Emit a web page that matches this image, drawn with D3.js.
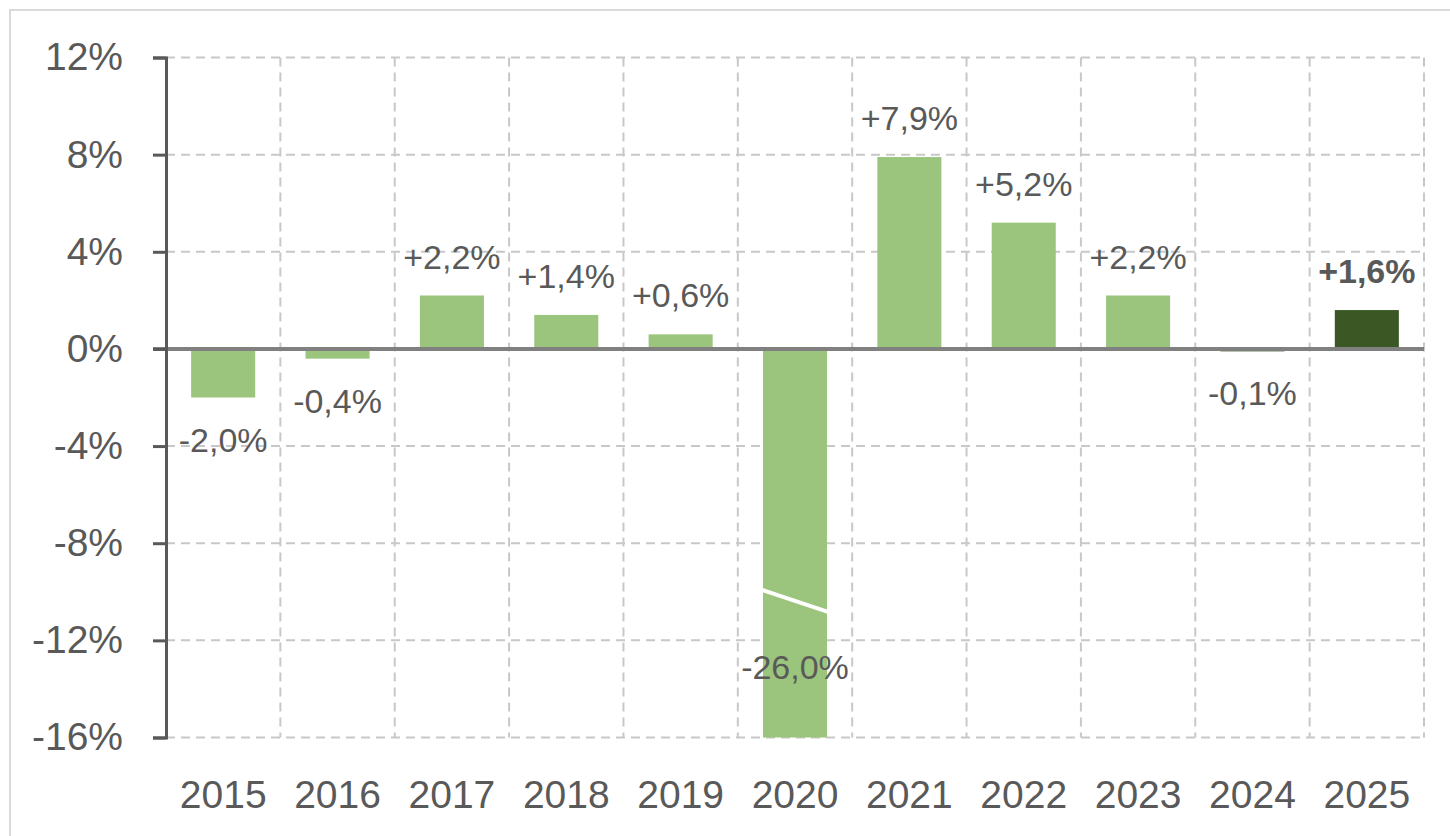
<!DOCTYPE html>
<html><head><meta charset="utf-8">
<script src="https://cdn.jsdelivr.net/npm/d3@7"></script>
<style>
html,body{margin:0;padding:0;background:#fff;}
svg{display:block;font-family:"Liberation Sans",Arial,sans-serif;}
</style></head>
<body>
<svg id="chart" width="1450" height="836"></svg>
<script>
const years = ["2015","2016","2017","2018","2019","2020","2021","2022","2023","2024","2025"];
const values = [-2.0,-0.4,2.2,1.4,0.6,-26.0,7.9,5.2,2.2,-0.1,1.6];
const labels = ["-2,0%","-0,4%","+2,2%","+1,4%","+0,6%","-26,0%","+7,9%","+5,2%","+2,2%","-0,1%","+1,6%"];
const highlight = [false,false,false,false,false,false,false,false,false,true,true];
const yTicks = [12,8,4,0,-4,-8,-12,-16];
const yTickLabels = ["12%","8%","4%","0%","-4%","-8%","-12%","-16%"];
const breakYear = "2020";
const breakValues = [-9.92,-10.83];

const svg = d3.select("#chart");
const m = {left:166, right:1424, top:57.5, bottom:737.5};
const x = d3.scaleBand().domain(years).range([m.left,m.right]).paddingInner(0.44).paddingOuter(0.22);
const xb = d3.scaleBand().domain(years).range([m.left,m.right]);
const y = d3.scaleLinear().domain([-16,12]).range([m.bottom,m.top]);
const lightC = "#9bc47c", darkC = "#3a5724", textC = "#595959";

// outer border
svg.append("rect").attr("x",10).attr("y",10).attr("width",1460).attr("height",900)
  .attr("fill","none").attr("stroke","#d9d9d9").attr("stroke-width",2);

// gridlines
const g = svg.append("g");
g.selectAll("line.h").data(yTicks.filter(t=>t!==0)).join("line")
  .attr("x1",m.left).attr("x2",m.right).attr("y1",d=>y(d)).attr("y2",d=>y(d))
  .attr("stroke","#c8c8c8").attr("stroke-width",2).attr("stroke-dasharray","9,6");
g.selectAll("line.v").data(years).join("line")
  .attr("x1",d=>xb(d)+xb.bandwidth()).attr("x2",d=>xb(d)+xb.bandwidth())
  .attr("y1",m.top).attr("y2",m.bottom)
  .attr("stroke","#c8c8c8").attr("stroke-width",2).attr("stroke-dasharray","9,6");

// bars (clipped)
svg.append("clipPath").attr("id","pc").append("rect")
  .attr("x",m.left).attr("y",m.top).attr("width",m.right-m.left).attr("height",m.bottom-m.top);
const bars = svg.append("g").attr("clip-path","url(#pc)");
bars.selectAll("rect").data(years).join("rect")
  .attr("x",d=>x(d)).attr("width",x.bandwidth())
  .attr("y",(d,i)=>y(Math.max(0,values[i])))
  .attr("height",(d,i)=>Math.abs(y(values[i])-y(0)))
  .attr("fill",(d,i)=>highlight[i]?darkC:lightC);

// break line
svg.append("line")
  .attr("x1",x(breakYear)-1).attr("x2",x(breakYear)+x.bandwidth()+1)
  .attr("y1",y(breakValues[0])).attr("y2",y(breakValues[1]))
  .attr("stroke","#fff").attr("stroke-width",4);

// zero line
svg.append("line").attr("x1",153).attr("x2",m.right).attr("y1",y(0)).attr("y2",y(0))
  .attr("stroke","#808080").attr("stroke-width",4);

// y axis
const yAxis = d3.axisLeft(y).tickValues(yTicks).tickSize(13).tickPadding(30)
  .tickFormat((d,i)=>yTickLabels[i]);
const ya = svg.append("g").attr("transform",`translate(${m.left},0)`).call(yAxis);
ya.select(".domain").attr("stroke",textC).attr("stroke-width",3);
ya.selectAll(".tick line").attr("stroke",textC).attr("stroke-width",3);
ya.selectAll(".tick text").attr("fill",textC).attr("font-size",39)
  .attr("font-family","Liberation Sans, Arial, sans-serif");

// x axis labels
const xAxis = d3.axisBottom(xb).tickSize(0).tickPadding(0);
const xa = svg.append("g").attr("transform",`translate(0,${m.bottom})`).call(xAxis);
xa.select(".domain").remove();
xa.selectAll(".tick text").attr("fill",textC).attr("font-size",39)
  .attr("font-family","Liberation Sans, Arial, sans-serif")
  .attr("dy",null).attr("y",57).attr("dominant-baseline","central");

// data labels
svg.append("g").selectAll("text").data(years).join("text")
  .attr("x",d=>x(d)+x.bandwidth()/2)
  .attr("y",(d,i)=>{
    const v=values[i];
    if (v < -16) return y(-16)-71;
    return v>=0 ? y(v)-39 : y(v)+42;
  })
  .attr("text-anchor","middle").attr("dominant-baseline","central")
  .attr("fill",textC).attr("font-size",34)
  .attr("font-weight",(d,i)=>i===years.length-1?"bold":"normal")
  .text((d,i)=>labels[i]);
</script>
</body></html>
